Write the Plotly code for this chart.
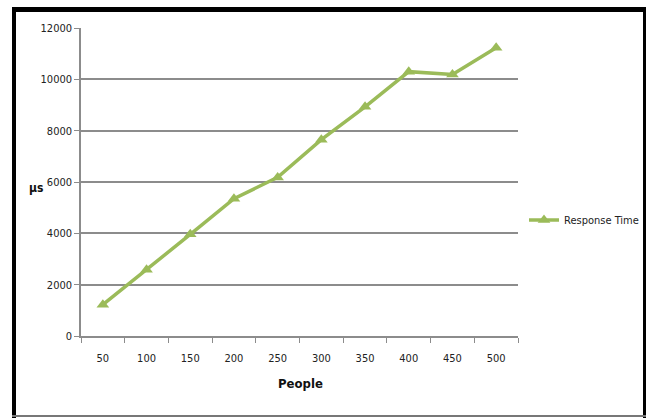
import plotly.graph_objects as go

# Response time (µs) measured for increasing numbers of people
people = ["50", "100", "150", "200", "250", "300", "350", "400", "450", "500"]
response_us = [1220, 2580, 3960, 5350, 6180, 7650, 8930, 10300, 10190, 11230]
y_ticks = [0, 2000, 4000, 6000, 8000, 10000, 12000]

W, H = 648, 418
L, R, T, B = 81, 130, 28, 82
PW, PH = W - L - R, H - T - B

GREEN = "#9BBB59"
GRID = "#8C8C8C"
FONT = "DejaVu Sans Condensed, Liberation Sans Narrow, sans-serif"


def px_x(x):
    return (x - L) / PW


def px_y(y):
    return (H - B - y) / PH


fig = go.Figure()
fig.add_trace(go.Scatter(
    x=people, y=response_us, mode="lines+markers", name="Response Time",
    line=dict(color=GREEN, width=3.5),
    marker=dict(symbol="triangle-up", size=11, color=GREEN),
))

# outer frame around the chart
frame = [
    (12, 7, 16, 418, "black"),
    (12, 7, 646, 12, "black"),
    (643, 7, 646, 418, "black"),
    (12, 415, 646, 417, "#777777"),
]
shapes = []
for x0, y0, x1, y1, c in frame:
    shapes.append(dict(type="rect", xref="paper", yref="paper",
                       x0=px_x(x0), x1=px_x(x1), y0=px_y(y1), y1=px_y(y0),
                       fillcolor=c, line=dict(width=0), layer="above"))

fig.update_layout(
    width=W, height=H,
    margin=dict(l=L, r=R, t=T, b=B, autoexpand=False),
    paper_bgcolor="white", plot_bgcolor="white",
    font=dict(family=FONT, size=11, color="#222222"),
    shapes=shapes,
    showlegend=True,
    legend=dict(x=px_x(524), y=px_y(220), xanchor="left", yanchor="middle",
                font=dict(family=FONT, size=11, color="#222222"),
                bgcolor="rgba(0,0,0,0)", itemwidth=30),
    xaxis=dict(type="category", range=[-0.5, len(people) - 0.5],
               tickson="boundaries", ticks="outside",
               ticklen=5, tickcolor=GRID, showline=True, linecolor=GRID,
               linewidth=1.5, showgrid=False, ticklabelstandoff=11,
               tickfont=dict(size=11), fixedrange=True),
    yaxis=dict(range=[0, 12000], tickvals=y_ticks,
               ticktext=[str(v) for v in y_ticks], ticks="outside",
               ticklen=5, tickcolor=GRID, showline=True, linecolor=GRID,
               linewidth=1.5, showgrid=True, gridcolor=GRID, gridwidth=1.5,
               zeroline=False, tickfont=dict(size=11), fixedrange=True),
    annotations=[
        dict(text="<b>People</b>", xref="paper", yref="paper",
             x=px_x(300), y=px_y(393), showarrow=False,
             font=dict(family=FONT, size=13, color="#111111")),
        dict(text="<b>µs</b>", xref="paper", yref="paper",
             x=px_x(28), y=px_y(188), xanchor="left", showarrow=False,
             borderpad=0, font=dict(family=FONT, size=12, color="#111111")),
    ],
)

fig.write_html("out.html")
